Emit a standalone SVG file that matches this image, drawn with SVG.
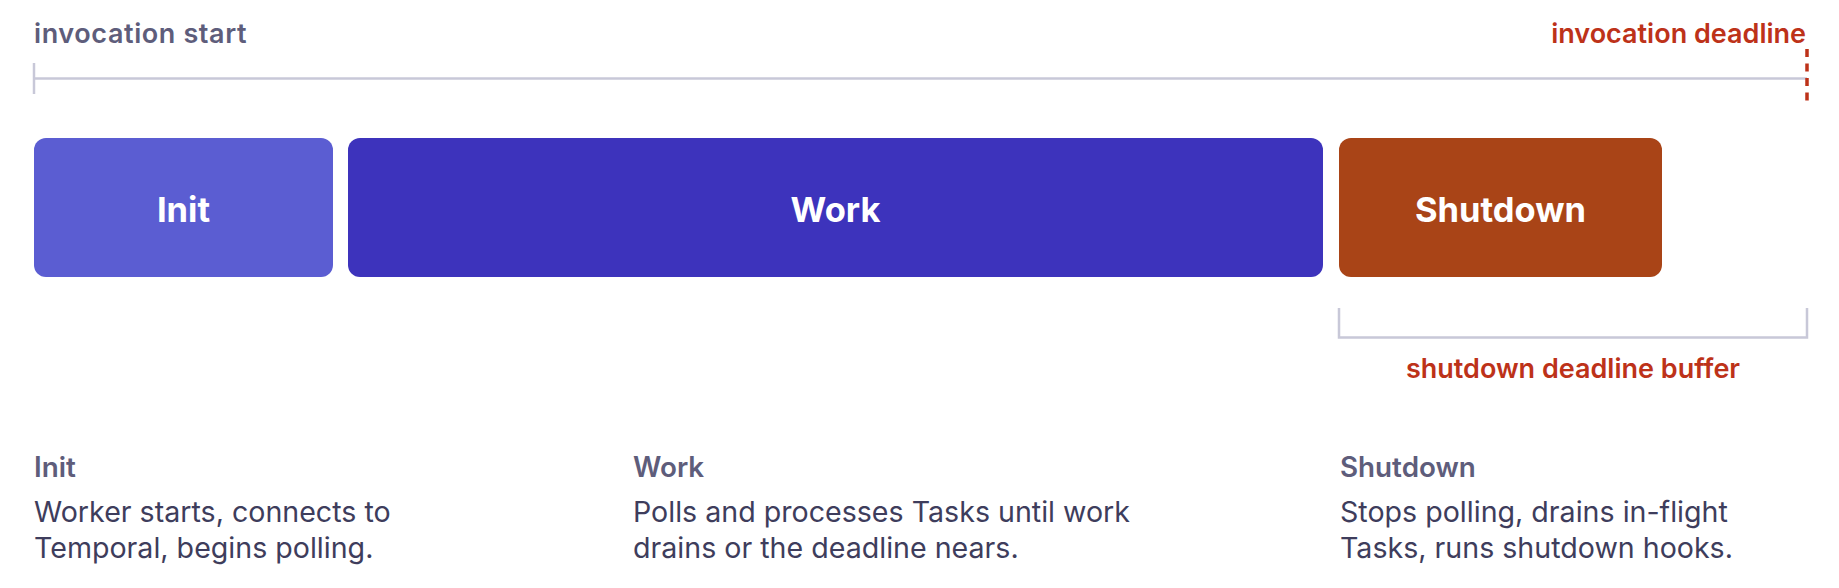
<svg xmlns="http://www.w3.org/2000/svg" width="1839" height="588" viewBox="0 0 1839 588">
<style>
.lbl{font-family:Inter,"Noto Sans","Liberation Sans",sans-serif;font-size:27px;font-weight:600}
.muted{fill:#5e5d7b}
.red{fill:#bd3219}
.box{font-family:Inter,"Noto Sans","Liberation Sans",sans-serif;font-size:34.5px;font-weight:700;fill:#ffffff}
.head{font-family:Inter,"Noto Sans","Liberation Sans",sans-serif;font-size:27.8px;font-weight:600;fill:#5e5d7b}
.body{font-family:Inter,"Noto Sans","Liberation Sans",sans-serif;font-size:28.6px;font-weight:400;fill:#3e3d5c}
.axis{stroke:#c8c8d8;stroke-width:2.5;fill:none}
</style>
<rect width="1839" height="588" fill="#ffffff"/>
<g id="timeline">
<text class="lbl muted" x="34" y="43" letter-spacing="0.6">invocation start</text>
<text class="lbl red" x="1806" y="43" text-anchor="end" font-size="26.8">invocation deadline</text>
</g>
<g id="connectors">
<line class="axis" x1="34" y1="78.5" x2="1807" y2="78.5"/>
<line class="axis" x1="34" y1="63" x2="34" y2="94"/>
<line x1="1807" y1="49" x2="1807" y2="101" stroke="#bd3219" stroke-width="3.5" stroke-dasharray="8 6.5"/>
<path class="axis" d="M1339 308 V337.5 H1807 V308"/>
</g>
<g id="init">
<rect x="34" y="138" width="299" height="139" rx="12" fill="#5b5dd2"/>
<text class="box" x="183.5" y="222" text-anchor="middle">Init</text>
</g>
<g id="work">
<rect x="348" y="138" width="975" height="139" rx="12" fill="#3d33bc"/>
<text class="box" x="835.5" y="222" text-anchor="middle">Work</text>
</g>
<g id="shutdown">
<rect x="1339" y="138" width="323" height="139" rx="12" fill="#a94417"/>
<text class="box" x="1500.5" y="222" text-anchor="middle">Shutdown</text>
</g>
<g id="buffer">
<text class="lbl red" x="1573" y="378" text-anchor="middle">shutdown deadline buffer</text>
</g>
<g id="desc-init">
<text class="head" x="34" y="477">Init</text>
<text class="body" x="34" y="522">Worker starts, connects to</text>
<text class="body" x="34" y="558">Temporal, begins polling.</text>
</g>
<g id="desc-work">
<text class="head" x="633" y="477">Work</text>
<text class="body" x="633" y="522">Polls and processes Tasks until work</text>
<text class="body" x="633" y="558">drains or the deadline nears.</text>
</g>
<g id="desc-shutdown">
<text class="head" x="1340" y="477">Shutdown</text>
<text class="body" x="1340" y="522">Stops polling, drains in-flight</text>
<text class="body" x="1340" y="558">Tasks, runs shutdown hooks.</text>
</g>
</svg>
